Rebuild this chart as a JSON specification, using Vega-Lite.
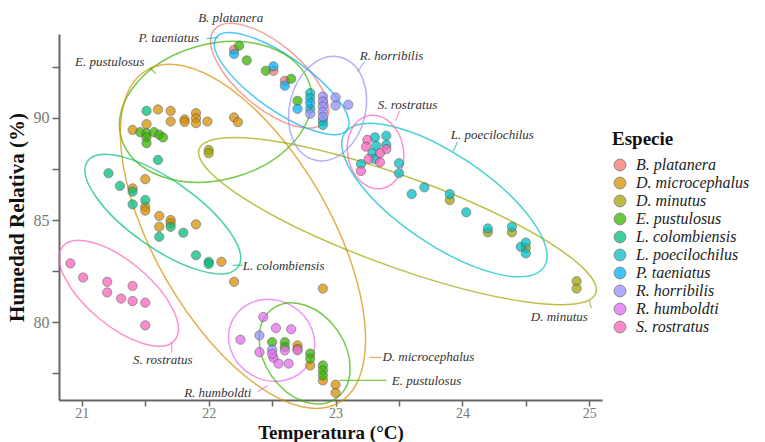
{
  "$schema": "https://vega.github.io/schema/vega-lite/v6.json",
  "width": 543,
  "height": 366,
  "autosize": {"type": "none"},
  "padding": {"left": 59, "top": 34, "right": 163, "bottom": 42},
  "background": "white",
  "config": {
    "view": {"stroke": null},
    "axis": {
      "grid": false,
      "domainColor": "#666",
      "domainWidth": 2,
      "tickColor": "#666",
      "tickWidth": 1.5,
      "tickSize": 7,
      "labelFont": "Liberation Serif",
      "labelFontSize": 16,
      "labelColor": "#777",
      "titleFont": "Liberation Serif",
      "titleFontSize": 21,
      "titleFontWeight": "bold",
      "titleColor": "#111"
    },
    "legend": {
      "titleFont": "Liberation Serif",
      "titleFontSize": 19,
      "titleFontWeight": "bold",
      "titleColor": "#111",
      "labelFont": "Liberation Serif",
      "labelFontSize": 16,
      "labelFontStyle": "italic",
      "labelColor": "#222"
    }
  },
  "datasets": {
    "pts": [
      {"especie": "B. platanera", "temp": 22.20, "hum": 93.33},
      {"especie": "B. platanera", "temp": 22.51, "hum": 92.30},
      {"especie": "B. platanera", "temp": 22.60, "hum": 91.81},
      {"especie": "D. microcephalus", "temp": 21.40, "hum": 89.41},
      {"especie": "D. microcephalus", "temp": 21.51, "hum": 89.69},
      {"especie": "D. microcephalus", "temp": 21.60, "hum": 90.41},
      {"especie": "D. microcephalus", "temp": 21.70, "hum": 90.34},
      {"especie": "D. microcephalus", "temp": 21.70, "hum": 89.82},
      {"especie": "D. microcephalus", "temp": 21.81, "hum": 89.92},
      {"especie": "D. microcephalus", "temp": 21.81, "hum": 89.80},
      {"especie": "D. microcephalus", "temp": 21.90, "hum": 90.23},
      {"especie": "D. microcephalus", "temp": 21.90, "hum": 89.98},
      {"especie": "D. microcephalus", "temp": 21.90, "hum": 89.74},
      {"especie": "D. microcephalus", "temp": 21.99, "hum": 89.82},
      {"especie": "D. microcephalus", "temp": 22.20, "hum": 90.02},
      {"especie": "D. microcephalus", "temp": 22.23, "hum": 89.79},
      {"especie": "D. microcephalus", "temp": 21.50, "hum": 87.00},
      {"especie": "D. microcephalus", "temp": 21.40, "hum": 86.55},
      {"especie": "D. microcephalus", "temp": 21.50, "hum": 85.65},
      {"especie": "D. microcephalus", "temp": 21.50, "hum": 85.46},
      {"especie": "D. microcephalus", "temp": 21.61, "hum": 85.20},
      {"especie": "D. microcephalus", "temp": 21.61, "hum": 84.67},
      {"especie": "D. microcephalus", "temp": 21.70, "hum": 85.00},
      {"especie": "D. microcephalus", "temp": 21.70, "hum": 84.84},
      {"especie": "D. microcephalus", "temp": 21.90, "hum": 84.79},
      {"especie": "D. microcephalus", "temp": 22.10, "hum": 82.96},
      {"especie": "D. microcephalus", "temp": 22.20, "hum": 81.98},
      {"especie": "D. microcephalus", "temp": 22.90, "hum": 81.65},
      {"especie": "D. microcephalus", "temp": 22.70, "hum": 78.87},
      {"especie": "D. microcephalus", "temp": 22.70, "hum": 78.70},
      {"especie": "D. microcephalus", "temp": 22.80, "hum": 77.89},
      {"especie": "D. microcephalus", "temp": 22.90, "hum": 77.16},
      {"especie": "D. microcephalus", "temp": 23.00, "hum": 76.95},
      {"especie": "D. microcephalus", "temp": 23.00, "hum": 76.55},
      {"especie": "D. minutus", "temp": 22.00, "hum": 88.43},
      {"especie": "D. minutus", "temp": 22.00, "hum": 88.27},
      {"especie": "D. minutus", "temp": 23.90, "hum": 85.98},
      {"especie": "D. minutus", "temp": 24.20, "hum": 84.40},
      {"especie": "D. minutus", "temp": 24.39, "hum": 84.40},
      {"especie": "D. minutus", "temp": 24.50, "hum": 83.64},
      {"especie": "D. minutus", "temp": 24.90, "hum": 82.01},
      {"especie": "D. minutus", "temp": 24.90, "hum": 81.65},
      {"especie": "E. pustulosus", "temp": 21.46, "hum": 89.30},
      {"especie": "E. pustulosus", "temp": 21.51, "hum": 89.25},
      {"especie": "E. pustulosus", "temp": 21.51, "hum": 89.04},
      {"especie": "E. pustulosus", "temp": 21.51, "hum": 88.76},
      {"especie": "E. pustulosus", "temp": 21.57, "hum": 89.30},
      {"especie": "E. pustulosus", "temp": 21.61, "hum": 89.17},
      {"especie": "E. pustulosus", "temp": 21.64, "hum": 89.04},
      {"especie": "E. pustulosus", "temp": 22.24, "hum": 93.53},
      {"especie": "E. pustulosus", "temp": 22.30, "hum": 92.81},
      {"especie": "E. pustulosus", "temp": 22.45, "hum": 92.30},
      {"especie": "E. pustulosus", "temp": 22.65, "hum": 91.91},
      {"especie": "E. pustulosus", "temp": 22.70, "hum": 90.83},
      {"especie": "E. pustulosus", "temp": 22.50, "hum": 79.03},
      {"especie": "E. pustulosus", "temp": 22.60, "hum": 79.03},
      {"especie": "E. pustulosus", "temp": 22.60, "hum": 78.79},
      {"especie": "E. pustulosus", "temp": 22.80, "hum": 78.47},
      {"especie": "E. pustulosus", "temp": 22.80, "hum": 78.22},
      {"especie": "E. pustulosus", "temp": 22.90, "hum": 77.89},
      {"especie": "E. pustulosus", "temp": 22.90, "hum": 77.65},
      {"especie": "E. pustulosus", "temp": 22.90, "hum": 77.40},
      {"especie": "L. colombiensis", "temp": 21.51, "hum": 90.34},
      {"especie": "L. colombiensis", "temp": 21.60, "hum": 87.94},
      {"especie": "L. colombiensis", "temp": 21.21, "hum": 87.29},
      {"especie": "L. colombiensis", "temp": 21.30, "hum": 86.67},
      {"especie": "L. colombiensis", "temp": 21.40, "hum": 86.39},
      {"especie": "L. colombiensis", "temp": 21.40, "hum": 85.77},
      {"especie": "L. colombiensis", "temp": 21.50, "hum": 85.98},
      {"especie": "L. colombiensis", "temp": 21.61, "hum": 84.18},
      {"especie": "L. colombiensis", "temp": 21.70, "hum": 84.67},
      {"especie": "L. colombiensis", "temp": 21.80, "hum": 84.38},
      {"especie": "L. colombiensis", "temp": 21.90, "hum": 83.28},
      {"especie": "L. colombiensis", "temp": 22.00, "hum": 82.96},
      {"especie": "L. colombiensis", "temp": 22.00, "hum": 82.85},
      {"especie": "L. poecilochilus", "temp": 22.80, "hum": 91.21},
      {"especie": "L. poecilochilus", "temp": 22.80, "hum": 90.97},
      {"especie": "L. poecilochilus", "temp": 22.80, "hum": 90.44},
      {"especie": "L. poecilochilus", "temp": 22.90, "hum": 89.85},
      {"especie": "L. poecilochilus", "temp": 22.90, "hum": 89.65},
      {"especie": "L. poecilochilus", "temp": 23.31, "hum": 89.05},
      {"especie": "L. poecilochilus", "temp": 23.40, "hum": 89.12},
      {"especie": "L. poecilochilus", "temp": 23.32, "hum": 88.63},
      {"especie": "L. poecilochilus", "temp": 23.40, "hum": 88.68},
      {"especie": "L. poecilochilus", "temp": 23.29, "hum": 88.27},
      {"especie": "L. poecilochilus", "temp": 23.31, "hum": 87.99},
      {"especie": "L. poecilochilus", "temp": 23.20, "hum": 87.74},
      {"especie": "L. poecilochilus", "temp": 23.50, "hum": 87.78},
      {"especie": "L. poecilochilus", "temp": 23.50, "hum": 87.29},
      {"especie": "L. poecilochilus", "temp": 23.60, "hum": 86.27},
      {"especie": "L. poecilochilus", "temp": 23.70, "hum": 86.60},
      {"especie": "L. poecilochilus", "temp": 23.90, "hum": 86.27},
      {"especie": "L. poecilochilus", "temp": 24.03, "hum": 85.38},
      {"especie": "L. poecilochilus", "temp": 24.20, "hum": 84.59},
      {"especie": "L. poecilochilus", "temp": 24.39, "hum": 84.67},
      {"especie": "L. poecilochilus", "temp": 24.46, "hum": 83.69},
      {"especie": "L. poecilochilus", "temp": 24.50, "hum": 83.90},
      {"especie": "L. poecilochilus", "temp": 24.50, "hum": 83.37},
      {"especie": "P. taeniatus", "temp": 22.20, "hum": 93.12},
      {"especie": "P. taeniatus", "temp": 22.51, "hum": 92.52},
      {"especie": "P. taeniatus", "temp": 22.60, "hum": 91.57},
      {"especie": "P. taeniatus", "temp": 22.70, "hum": 90.44},
      {"especie": "P. taeniatus", "temp": 22.80, "hum": 90.72},
      {"especie": "R. horribilis", "temp": 22.80, "hum": 90.20},
      {"especie": "R. horribilis", "temp": 22.90, "hum": 91.04},
      {"especie": "R. horribilis", "temp": 22.90, "hum": 90.80},
      {"especie": "R. horribilis", "temp": 22.90, "hum": 90.56},
      {"especie": "R. horribilis", "temp": 22.90, "hum": 90.30},
      {"especie": "R. horribilis", "temp": 22.90, "hum": 90.05},
      {"especie": "R. horribilis", "temp": 23.00, "hum": 91.00},
      {"especie": "R. horribilis", "temp": 23.00, "hum": 90.60},
      {"especie": "R. horribilis", "temp": 23.10, "hum": 90.64},
      {"especie": "R. horribilis", "temp": 22.40, "hum": 79.36},
      {"especie": "R. horribilis", "temp": 22.50, "hum": 78.66},
      {"especie": "R. humboldti", "temp": 22.43, "hum": 80.26},
      {"especie": "R. humboldti", "temp": 22.53, "hum": 79.72},
      {"especie": "R. humboldti", "temp": 22.65, "hum": 79.66},
      {"especie": "R. humboldti", "temp": 22.25, "hum": 79.15},
      {"especie": "R. humboldti", "temp": 22.40, "hum": 78.54},
      {"especie": "R. humboldti", "temp": 22.51, "hum": 78.27},
      {"especie": "R. humboldti", "temp": 22.55, "hum": 77.98},
      {"especie": "R. humboldti", "temp": 22.63, "hum": 77.98},
      {"especie": "R. humboldti", "temp": 22.60, "hum": 78.63},
      {"especie": "R. humboldti", "temp": 22.70, "hum": 78.63},
      {"especie": "R. humboldti", "temp": 22.50, "hum": 78.45},
      {"especie": "S. rostratus", "temp": 23.25, "hum": 88.92},
      {"especie": "S. rostratus", "temp": 23.24, "hum": 88.59},
      {"especie": "S. rostratus", "temp": 23.40, "hum": 88.47},
      {"especie": "S. rostratus", "temp": 23.35, "hum": 88.27},
      {"especie": "S. rostratus", "temp": 23.26, "hum": 87.99},
      {"especie": "S. rostratus", "temp": 23.35, "hum": 87.83},
      {"especie": "S. rostratus", "temp": 23.20, "hum": 87.40},
      {"especie": "S. rostratus", "temp": 20.91, "hum": 82.88},
      {"especie": "S. rostratus", "temp": 21.01, "hum": 82.19},
      {"especie": "S. rostratus", "temp": 21.20, "hum": 81.98},
      {"especie": "S. rostratus", "temp": 21.20, "hum": 81.46},
      {"especie": "S. rostratus", "temp": 21.40, "hum": 81.78},
      {"especie": "S. rostratus", "temp": 21.31, "hum": 81.16},
      {"especie": "S. rostratus", "temp": 21.40, "hum": 81.04},
      {"especie": "S. rostratus", "temp": 21.50, "hum": 80.96},
      {"especie": "S. rostratus", "temp": 21.50, "hum": 79.85}
    ],
    "ell": [
      {"id": "bpl", "temp": 22.48, "hum": 92.06},
      {"id": "pta", "temp": 22.575, "hum": 91.67},
      {"id": "epu1", "temp": 22.055, "hum": 90.29},
      {"id": "dmc", "temp": 22.27, "hum": 84.2},
      {"id": "dmi", "temp": 23.488, "hum": 84.95},
      {"id": "lpo", "temp": 23.858, "hum": 85.98},
      {"id": "sro1", "temp": 23.315, "hum": 88.33},
      {"id": "rho", "temp": 22.937, "hum": 90.45},
      {"id": "lco", "temp": 21.638, "hum": 85.29},
      {"id": "sro2", "temp": 21.291, "hum": 81.42},
      {"id": "rhu", "temp": 22.496, "hum": 79.12},
      {"id": "epu2", "temp": 22.756, "hum": 78.48}
    ],
    "ann": [
      {"label": "B. platanera", "temp": 22.173, "hum": 94.90},
      {"label": "P. taeniatus", "temp": 21.685, "hum": 93.92},
      {"label": "E. pustulosus", "temp": 21.22, "hum": 92.75},
      {"label": "R. horribilis", "temp": 23.441, "hum": 93.04},
      {"label": "S. rostratus", "temp": 23.567, "hum": 90.64},
      {"label": "L. poecilochilus", "temp": 24.236, "hum": 89.17},
      {"label": "L. colombiensis", "temp": 22.591, "hum": 82.75},
      {"label": "S. rostratus", "temp": 21.638, "hum": 78.14},
      {"label": "R. humboldti", "temp": 22.071, "hum": 76.52},
      {"label": "D. microcephalus", "temp": 23.732, "hum": 78.28},
      {"label": "E. pustulosus", "temp": 23.717, "hum": 77.11},
      {"label": "D. minutus", "temp": 24.764, "hum": 80.25}
    ],
    "lead": [
      {"id": "pta", "temp": 21.984, "hum": 93.87, "temp2": 22.071, "hum2": 93.92},
      {"id": "epu1", "temp": 21.535, "hum": 92.45, "temp2": 21.583, "hum2": 92.16},
      {"id": "rho", "temp": 23.228, "hum": 92.75, "temp2": 23.173, "hum2": 92.25},
      {"id": "sro1", "temp": 23.504, "hum": 90.34, "temp2": 23.472, "hum2": 89.85},
      {"id": "lpo", "temp": 23.961, "hum": 88.82, "temp2": 23.929, "hum2": 88.38},
      {"id": "lco", "temp": 22.189, "hum": 82.79, "temp2": 22.268, "hum2": 82.79},
      {"id": "sro2", "temp": 21.709, "hum": 79.02, "temp2": 21.709, "hum2": 78.53},
      {"id": "rhu", "temp": 22.386, "hum": 76.62, "temp2": 22.465, "hum2": 76.91},
      {"id": "dmc", "temp": 23.268, "hum": 78.28, "temp2": 23.362, "hum2": 78.28},
      {"id": "epu2", "temp": 23.031, "hum": 77.16, "temp2": 23.402, "hum2": 77.16},
      {"id": "dmi", "temp": 25.0, "hum": 81.08, "temp2": 25.016, "hum2": 80.69}
    ]
  },
  "encoding": {
    "x": {
      "field": "temp",
      "type": "quantitative",
      "title": "Temperatura (°C)",
      "scale": {"domain": [20.82, 25.1], "nice": false, "zero": false},
      "axis": {
        "values": [21, 21.5, 22, 22.5, 23, 23.5, 24, 24.5, 25],
        "labelExpr": "datum.value % 1 === 0 ? format(datum.value, 'd') : ''",
        "tickSize": 6,
        "labelFontSize": 14,
        "labelPadding": 0,
        "titleFontSize": 19,
        "titleBaseline": "alphabetic",
        "titleY": 38
      }
    },
    "y": {
      "field": "hum",
      "type": "quantitative",
      "title": "Humedad Relativa (%)",
      "scale": {"domain": [76.2, 94.1], "nice": false, "zero": false},
      "axis": {
        "values": [77.5, 80, 82.5, 85, 87.5, 90, 92.5],
        "labelExpr": "datum.value % 5 === 0 ? format(datum.value, 'd') : ''",
        "labelPadding": 3,
        "titlePadding": 6
      }
    }
  },
  "layer": [
    {"data": {"name": "ell"}, "transform": [{"filter": "datum.id === 'bpl'"}],
     "mark": {"type": "point", "shape": "M -72 0 A 72 32 0 1 0 72 0 A 72 32 0 1 0 -72 0 Z", "size": 4, "angle": 40, "filled": false, "stroke": "#F8766D", "strokeWidth": 1.5, "opacity": 0.7}},
    {"data": {"name": "ell"}, "transform": [{"filter": "datum.id === 'pta'"}],
     "mark": {"type": "point", "shape": "M -80 0 A 80 27 0 1 0 80 0 A 80 27 0 1 0 -80 0 Z", "size": 4, "angle": 35, "filled": false, "stroke": "#00B0F6", "strokeWidth": 1.5, "opacity": 0.7}},
    {"data": {"name": "ell"}, "transform": [{"filter": "datum.id === 'epu1'"}],
     "mark": {"type": "point", "shape": "M -98 0 A 98 68 0 1 0 98 0 A 98 68 0 1 0 -98 0 Z", "size": 4, "angle": -15, "filled": false, "stroke": "#39B600", "strokeWidth": 1.5, "opacity": 0.7}},
    {"data": {"name": "ell"}, "transform": [{"filter": "datum.id === 'dmc'"}],
     "mark": {"type": "point", "shape": "M -192 0 A 192 88 0 1 0 192 0 A 192 88 0 1 0 -192 0 Z", "size": 4, "angle": 60, "filled": false, "stroke": "#D89000", "strokeWidth": 1.5, "opacity": 0.7}},
    {"data": {"name": "ell"}, "transform": [{"filter": "datum.id === 'dmi'"}],
     "mark": {"type": "point", "shape": "M -211 0 A 211 45 0 1 0 211 0 A 211 45 0 1 0 -211 0 Z", "size": 4, "angle": 20, "filled": false, "stroke": "#A3A500", "strokeWidth": 1.5, "opacity": 0.7}},
    {"data": {"name": "ell"}, "transform": [{"filter": "datum.id === 'lpo'"}],
     "mark": {"type": "point", "shape": "M -120 0 A 120 45 0 1 0 120 0 A 120 45 0 1 0 -120 0 Z", "size": 4, "angle": 34, "filled": false, "stroke": "#00BFC4", "strokeWidth": 1.5, "opacity": 0.7}},
    {"data": {"name": "ell"}, "transform": [{"filter": "datum.id === 'sro1'"}],
     "mark": {"type": "point", "shape": "M -37 0 A 37 28 0 1 0 37 0 A 37 28 0 1 0 -37 0 Z", "size": 4, "angle": 80, "filled": false, "stroke": "#FF62BC", "strokeWidth": 1.5, "opacity": 0.7}},
    {"data": {"name": "ell"}, "transform": [{"filter": "datum.id === 'rho'"}],
     "mark": {"type": "point", "shape": "M -53 0 A 53 38 0 1 0 53 0 A 53 38 0 1 0 -53 0 Z", "size": 4, "angle": 104, "filled": false, "stroke": "#9590FF", "strokeWidth": 1.5, "opacity": 0.7}},
    {"data": {"name": "ell"}, "transform": [{"filter": "datum.id === 'lco'"}],
     "mark": {"type": "point", "shape": "M -92 0 A 92 34 0 1 0 92 0 A 92 34 0 1 0 -92 0 Z", "size": 4, "angle": 35, "filled": false, "stroke": "#00BF7D", "strokeWidth": 1.5, "opacity": 0.7}},
    {"data": {"name": "ell"}, "transform": [{"filter": "datum.id === 'sro2'"}],
     "mark": {"type": "point", "shape": "M -73 0 A 73 32 0 1 0 73 0 A 73 32 0 1 0 -73 0 Z", "size": 4, "angle": 40, "filled": false, "stroke": "#FF62BC", "strokeWidth": 1.5, "opacity": 0.7}},
    {"data": {"name": "ell"}, "transform": [{"filter": "datum.id === 'rhu'"}],
     "mark": {"type": "point", "shape": "M -44 0 A 44 40 0 1 0 44 0 A 44 40 0 1 0 -44 0 Z", "size": 4, "angle": 30, "filled": false, "stroke": "#E76BF3", "strokeWidth": 1.5, "opacity": 0.7}},
    {"data": {"name": "ell"}, "transform": [{"filter": "datum.id === 'epu2'"}],
     "mark": {"type": "point", "shape": "M -55 0 A 55 40 0 1 0 55 0 A 55 40 0 1 0 -55 0 Z", "size": 4, "angle": 55, "filled": false, "stroke": "#39B600", "strokeWidth": 1.5, "opacity": 0.7}},
    {"data": {"name": "lead"},
     "mark": {"type": "rule", "strokeWidth": 1.2, "opacity": 0.7},
     "encoding": {
       "x2": {"field": "temp2"},
       "y2": {"field": "hum2"},
       "color": {
         "field": "id", "type": "nominal", "legend": null,
         "scale": {
           "domain": ["pta", "epu1", "rho", "sro1", "lpo", "lco", "sro2", "rhu", "dmc", "epu2", "dmi"],
           "range": ["#00B0F6", "#39B600", "#9590FF", "#FF62BC", "#00BFC4", "#00BF7D", "#FF62BC", "#E76BF3", "#D89000", "#39B600", "#A3A500"]
         }
       }
     }},
    {"data": {"name": "pts"},
     "mark": {"type": "circle", "size": 85, "opacity": 0.75, "stroke": "#555", "strokeWidth": 0.8},
     "encoding": {
       "fill": {
         "field": "especie", "type": "nominal", "title": "Especie",
         "scale": {
           "domain": ["B. platanera", "D. microcephalus", "D. minutus", "E. pustulosus", "L. colombiensis", "L. poecilochilus", "P. taeniatus", "R. horribilis", "R. humboldti", "S. rostratus"],
           "range": ["#F8766D", "#D89000", "#A3A500", "#39B600", "#00BF7D", "#00BFC4", "#00B0F6", "#9590FF", "#E76BF3", "#FF62BC"]
         },
         "legend": {
           "orient": "none",
           "legendX": 553,
           "legendY": 96,
           "padding": 0,
           "symbolSize": 140,
           "symbolOpacity": 0.75,
           "symbolStrokeColor": "#666",
           "symbolStrokeWidth": 1,
           "rowPadding": 2,
           "titlePadding": 8,
           "labelOffset": 8
         }
       }
     }},
    {"data": {"name": "ann"},
     "mark": {"type": "text", "font": "Liberation Serif", "fontStyle": "italic", "fontSize": 13, "color": "#333", "align": "center", "baseline": "middle"},
     "encoding": {"text": {"field": "label"}}}
  ]
}
